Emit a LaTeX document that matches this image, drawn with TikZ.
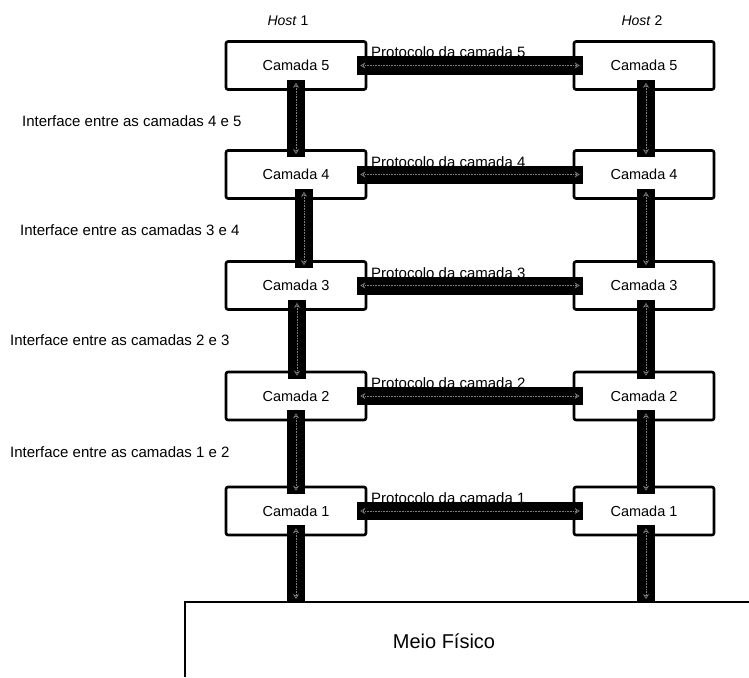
\documentclass[tikz,border=0pt]{standalone}
\usepackage{fontspec}
\setmainfont{Liberation Sans}
\usetikzlibrary{arrows.meta}
\newcommand\linkbar[2]{\draw[bar] #1 -- #2; \draw[inner] #1 -- #2;}
\begin{document}
\begin{tikzpicture}[x=1pt,y=-1pt,
  layer/.style={draw, line width=2.6pt, rounded corners=2pt, minimum width=140pt, minimum height=48pt, inner sep=0pt, font=\fontsize{14.5}{16}\selectfont},
  bar/.style={line width=18pt, black},
  inner/.style={gray, densely dotted, line width=0.6pt, shorten <=3pt, shorten >=3pt, {Stealth[open,length=5pt,width=6pt]}-{Stealth[open,length=5pt,width=6pt]}},
  lbl/.style={font=\fontsize{15}{17}\selectfont, inner sep=0pt},
]
\useasboundingbox (0,0) rectangle (749,677);
% layer boxes
\node[layer] (a5) at (296,65.5) {Camada 5};
\node[layer] (a4) at (296,174.5) {Camada 4};
\node[layer] (a3) at (296,285.5) {Camada 3};
\node[layer] (a2) at (296,396) {Camada 2};
\node[layer] (a1) at (296,511) {Camada 1};
\node[layer] (b5) at (644,65.5) {Camada 5};
\node[layer] (b4) at (644,174.5) {Camada 4};
\node[layer] (b3) at (644,285.5) {Camada 3};
\node[layer] (b2) at (644,396) {Camada 2};
\node[layer] (b1) at (644,511) {Camada 1};
% host labels
\node[font=\fontsize{14}{16}\selectfont] (h1) at (288,21) {\textit{Host} 1};
\node[font=\fontsize{14}{16}\selectfont] (h2) at (642,21) {\textit{Host} 2};
% interface labels
\node[lbl, anchor=west] (i45) at (22,121) {Interface entre as camadas 4 e 5};
\node[lbl, anchor=west] (i34) at (20,230) {Interface entre as camadas 3 e 4};
\node[lbl, anchor=west] (i23) at (10,340) {Interface entre as camadas 2 e 3};
\node[lbl, anchor=west] (i12) at (10,452) {Interface entre as camadas 1 e 2};
% protocol labels
\node[lbl, anchor=base west] (p5) at (371,58) {Protocolo da camada 5};
\node[lbl, anchor=base west] (p4) at (371,167) {Protocolo da camada 4};
\node[lbl, anchor=base west] (p3) at (371,278) {Protocolo da camada 3};
\node[lbl, anchor=base west] (p2) at (371,388.5) {Protocolo da camada 2};
\node[lbl, anchor=base west] (p1) at (371,503.5) {Protocolo da camada 1};
% physical medium
\draw[line width=2.6pt] (185,677) -- (185,602) -- (749,602);
\coordinate (m1) at (296,602);
\coordinate (m2) at (646,602);
\node[font=\fontsize{20}{24}\selectfont] (mf) at (444,641) {Meio Físico};
% horizontal protocol bars
\linkbar{([xshift=-10pt]a5.east)}{([xshift=10pt]b5.west)}
\linkbar{([xshift=-10pt]a4.east)}{([xshift=10pt]b4.west)}
\linkbar{([xshift=-10pt]a3.east)}{([xshift=10pt]b3.west)}
\linkbar{([xshift=-10pt]a2.east)}{([xshift=10pt]b2.west)}
\linkbar{([xshift=-10pt]a1.east)}{([xshift=10pt]b1.west)}
% vertical interface bars, left
\linkbar{([yshift=11pt]a5.south)}{([yshift=-8pt]a4.north)}
\linkbar{([xshift=8pt,yshift=11pt]a4.south)}{([xshift=8pt,yshift=-8pt]a3.north)}
\linkbar{([xshift=1pt,yshift=11pt]a3.south)}{([xshift=1pt,yshift=-8pt]a2.north)}
\linkbar{([yshift=11pt]a2.south)}{([yshift=-8pt]a1.north)}
\linkbar{([yshift=11pt]a1.south)}{(m1)}
% vertical interface bars, right
\linkbar{([xshift=2pt,yshift=11pt]b5.south)}{([xshift=2pt,yshift=-8pt]b4.north)}
\linkbar{([xshift=2pt,yshift=11pt]b4.south)}{([xshift=2pt,yshift=-8pt]b3.north)}
\linkbar{([xshift=2pt,yshift=11pt]b3.south)}{([xshift=2pt,yshift=-8pt]b2.north)}
\linkbar{([xshift=2pt,yshift=11pt]b2.south)}{([xshift=2pt,yshift=-8pt]b1.north)}
\linkbar{([xshift=2pt,yshift=11pt]b1.south)}{(m2)}
\end{tikzpicture}
\end{document}
